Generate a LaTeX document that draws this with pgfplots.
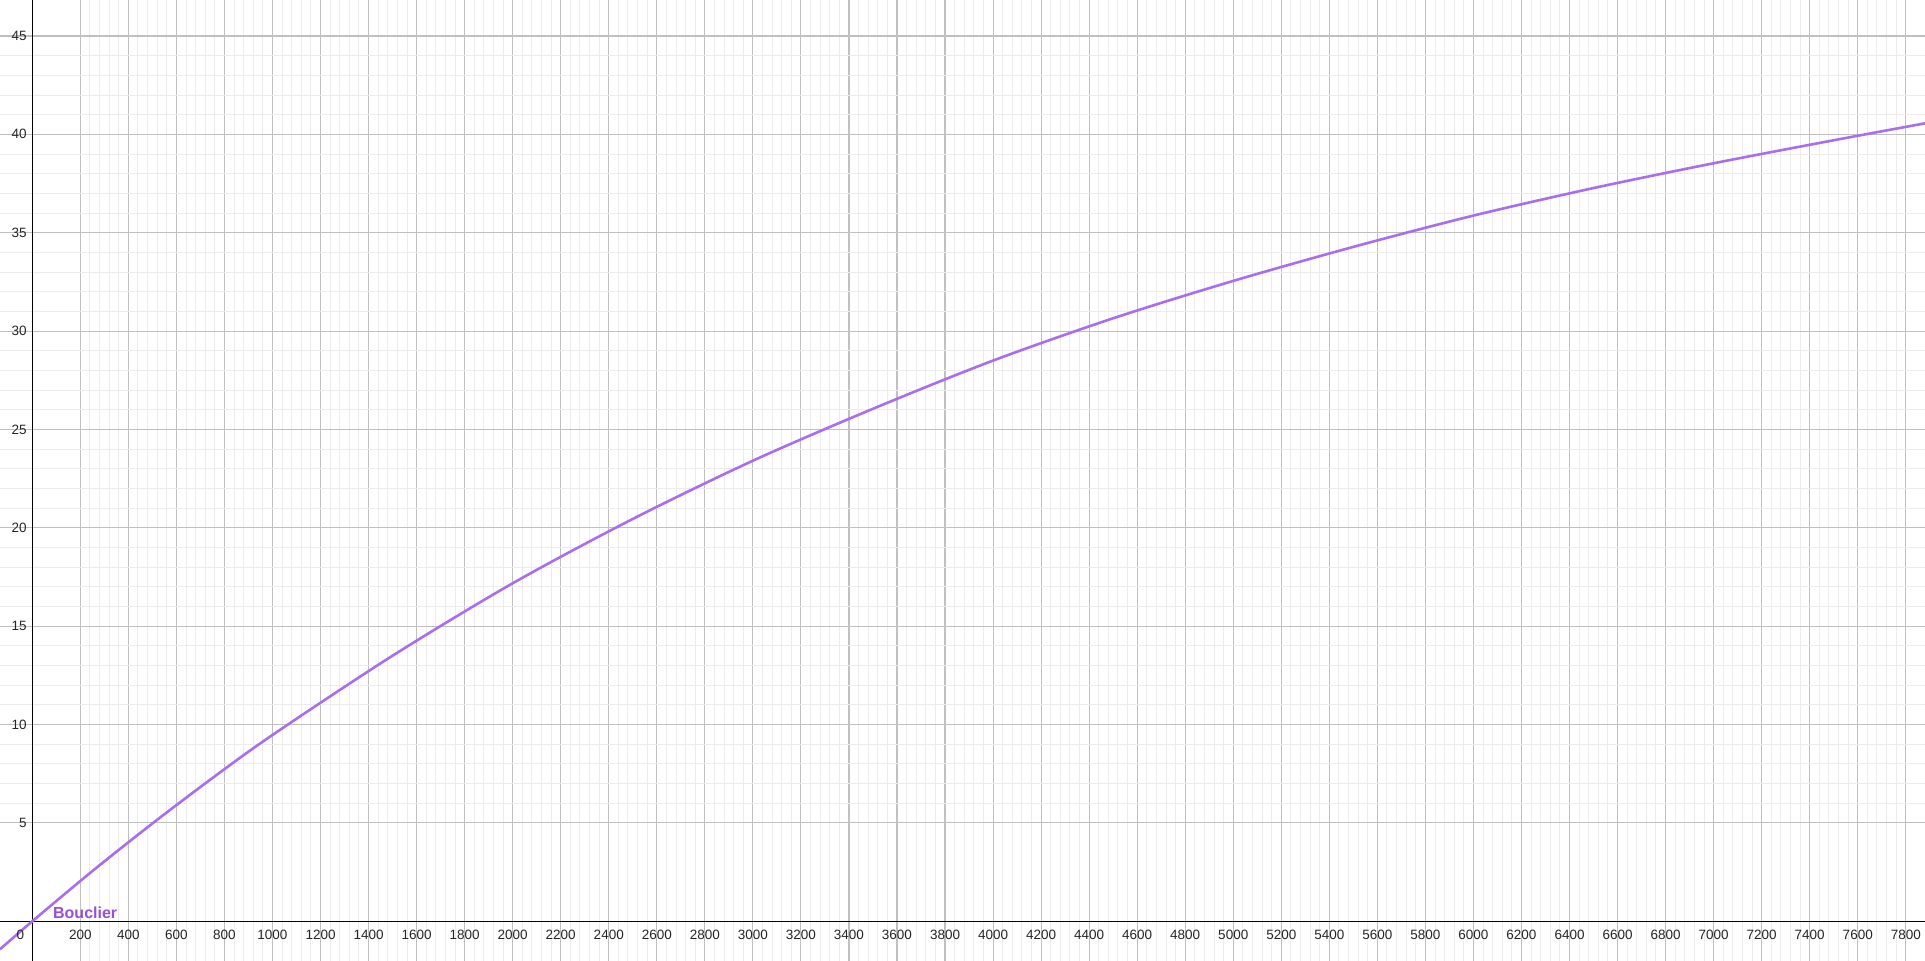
\documentclass[border=0pt]{standalone}
\usepackage{pgfplots}
\pgfplotsset{compat=1.18}
\usepackage{fontspec}
\setmainfont{Liberation Sans}
\definecolor{curve}{RGB}{168,110,238}
\definecolor{lbl}{RGB}{150,80,212}
\definecolor{majg}{RGB}{192,192,192}
\definecolor{ming}{RGB}{236,236,236}
\begin{document}
\begin{tikzpicture}
\begin{axis}[
  scale only axis,
  width=1925pt, height=961pt,
  xmin=-134.5, xmax=7880, ymin=-2.02, ymax=46.83,
  axis lines=middle,
  axis line style={black, line width=1.3pt, -},
  xtick={200,400,...,7800},
  ytick={5,10,...,45},
  minor x tick num=4,
  minor y tick num=4,
  grid=both,
  major grid style={majg, line width=1.1pt},
  minor grid style={ming, line width=1pt},
  tick style={draw=none},
  ticklabel style={font=\fontsize{13.5}{15}\selectfont, text=black!85},
  xticklabel style={yshift=-3pt},
  yticklabel style={xshift=0pt},
  /pgf/number format/assume math mode=true,
  /pgf/number format/set thousands separator={},
  clip=true,
]
\addplot[curve, line width=2.6pt, smooth] coordinates {
(-135,-1.43) (0,0) (250,2.55) (500,4.97) (750,7.28) (1000,9.47) (1500,13.50) (2000,17.18)
(2500,20.45) (3000,23.41) (3500,26.05) (4000,28.50) (4500,30.65)
(5000,32.55) (5500,34.28) (6000,35.87) (6500,37.27) (7000,38.53)
(7500,39.70) (7880,40.56)
};
\node[anchor=base west, inner sep=0pt, text=lbl, font=\bfseries\fontsize{16}{18}\selectfont] at (axis cs:86,0.15) {Bouclier};
\node[anchor=center, inner sep=0pt, font=\fontsize{13.5}{15}\selectfont, text=black!85] at (axis cs:-50,-0.68) {0};
\end{axis}
\pgfresetboundingbox
\path[use as bounding box] (0,0) rectangle (1925pt,961pt);
\end{tikzpicture}
\end{document}
